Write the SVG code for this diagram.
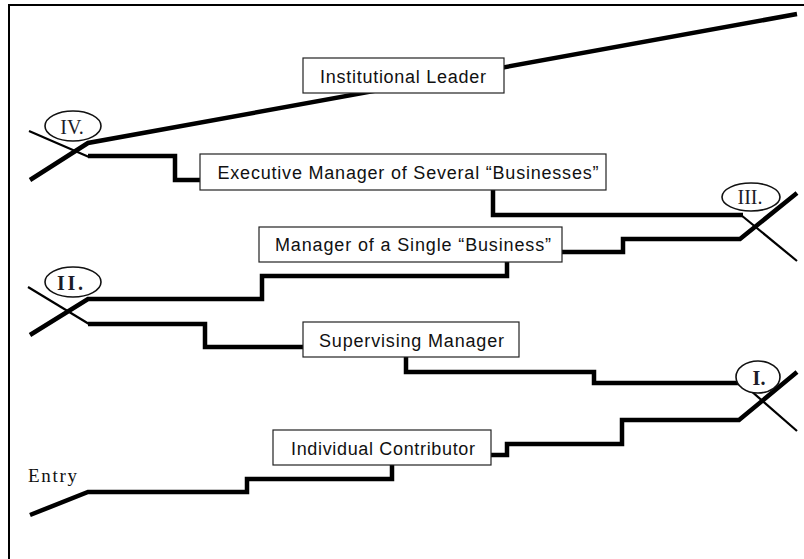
<svg xmlns="http://www.w3.org/2000/svg" width="804" height="559" viewBox="0 0 804 559">
  <style>
    .frame { fill: none; stroke: #000; stroke-width: 2; }
    .path { fill: none; stroke: #000; stroke-width: 4.5; stroke-linejoin: miter; stroke-linecap: butt; }
    .thin { fill: none; stroke: #000; stroke-width: 2.2; stroke-linecap: butt; }
    .box { fill: #fff; stroke: #222; stroke-width: 1.2; }
    .label { font-family: "Liberation Sans", Arial, sans-serif; font-size: 18px; fill: #111; text-anchor: middle; }
    .mark { fill: #fff; stroke: #111; stroke-width: 1.6; }
    .num { font-family: "Liberation Serif", "Times New Roman", serif; font-size: 20px; fill: #1b1b28; text-anchor: middle; }
    .bold { font-weight: bold; }
    .entry { font-family: "Liberation Serif", "Times New Roman", serif; font-size: 19px; fill: #111; }
  </style>

  <!-- page frame (left and top edges only) -->
  <path class="frame" d="M9,559 V5 H804"/>

  <g id="connectors">
    <!-- entry run up to Individual Contributor -->
    <path class="path" d="M30,515 L88,492 H247 V479 H392 V465"/>
    <!-- Individual Contributor to transition I -->
    <path class="path" d="M491,455 H507 V444 H622 V420 H739 L797,372"/>
    <!-- transition I back to Supervising Manager -->
    <path class="thin" d="M742,383 L797,431"/>
    <path class="path" d="M744,383 H594 V372 H406 V357"/>
    <!-- Supervising Manager to transition II -->
    <path class="path" d="M303,347 H205 V324 H88"/>
    <path class="thin" d="M28,287 L89,324"/>
    <!-- transition II up to Manager of a Single Business -->
    <path class="path" d="M30,335 L88,299 H262 V276 H507 V262"/>
    <!-- Manager of a Single Business to transition III -->
    <path class="path" d="M562,252 H623 V239 H740 L797,193"/>
    <!-- transition III back to Executive Manager -->
    <path class="thin" d="M741,215 L797,261"/>
    <path class="path" d="M743,215 H493 V190"/>
    <!-- Executive Manager to transition IV -->
    <path class="path" d="M200,180 H175 V156 H88"/>
    <path class="thin" d="M29,131 L89,157"/>
    <!-- transition IV up through Institutional Leader -->
    <path class="path" d="M30,180 L88,143 L797,14"/>
  </g>

  <g id="node-institutional-leader">
    <rect class="box" x="303" y="58" width="201" height="35"/>
    <text class="label" x="403" y="82.5" textLength="166" lengthAdjust="spacing">Institutional Leader</text>
  </g>

  <g id="node-executive-manager">
    <rect class="box" x="200" y="154" width="406" height="36"/>
    <text class="label" x="408" y="179" textLength="381" lengthAdjust="spacing">Executive Manager of Several “Businesses”</text>
  </g>

  <g id="node-single-business-manager">
    <rect class="box" x="259" y="227" width="303" height="35"/>
    <text class="label" x="413" y="251" textLength="276" lengthAdjust="spacing">Manager of a Single “Business”</text>
  </g>

  <g id="node-supervising-manager">
    <rect class="box" x="303" y="322" width="216" height="35"/>
    <text class="label" x="411.5" y="346.5" textLength="185" lengthAdjust="spacing">Supervising Manager</text>
  </g>

  <g id="node-individual-contributor">
    <rect class="box" x="273" y="430" width="218" height="35"/>
    <text class="label" x="383" y="454.5" textLength="184" lengthAdjust="spacing">Individual Contributor</text>
  </g>

  <g id="node-entry">
    <text class="entry" x="28" y="482" textLength="49" lengthAdjust="spacing">Entry</text>
  </g>

  <g id="transition-I">
    <ellipse class="mark" cx="758" cy="377" rx="22" ry="16"/>
    <text class="num bold" x="759" y="384.5">I.</text>
  </g>

  <g id="transition-II">
    <ellipse class="mark" cx="73" cy="282" rx="28" ry="15"/>
    <text class="num bold" x="70" y="289.5" textLength="26" lengthAdjust="spacing">II.</text>
  </g>

  <g id="transition-III">
    <ellipse class="mark" cx="751" cy="197" rx="29" ry="14"/>
    <text class="num" x="750" y="204">III.</text>
  </g>

  <g id="transition-IV">
    <ellipse class="mark" cx="73" cy="126" rx="28" ry="15"/>
    <text class="num" x="72" y="133.5">IV.</text>
  </g>
</svg>
